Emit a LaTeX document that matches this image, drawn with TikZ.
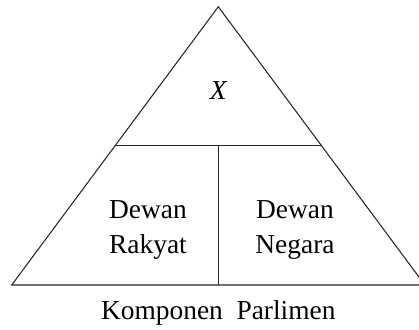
\documentclass[tikz,border=0pt]{standalone}
\usepackage{fontspec}
\setmainfont{Liberation Serif}
\usetikzlibrary{positioning}
\begin{document}
\begin{tikzpicture}[
  x=0.02cm, y=-0.02cm,
  font=\fontsize{15.6}{19.9}\selectfont,
  edge/.style={draw=black!85, line width=0.6pt},
  part/.style={align=center, inner sep=0pt},
]
\useasboundingbox (0,0) rectangle (419,329);

\coordinate (top)   at (218.3,6.7);
\coordinate (left)  at (11.7,285);
\coordinate (right) at (424.9,285);
\coordinate (ml)    at (115.1,145.7);
\coordinate (mr)    at (321.5,145.7);
\coordinate (mid)   at (218.3,145.7);
\coordinate (bot)   at (218.3,285);

\draw[edge] (top) -- (left) -- (right) -- cycle;
\draw[edge] (ml) -- (mr);
\draw[edge] (mid) -- (bot);

\node[part] (x)      at (218.3,91)  {\itshape X};
\node[part] (rakyat) at (148,230)   {Dewan\\Rakyat};
\node[part] (negara) at (295,230)   {Dewan\\Negara};
\node[part] (cap)    at (218.3,313) {Komponen\ \ Parlimen};

\end{tikzpicture}
\end{document}
